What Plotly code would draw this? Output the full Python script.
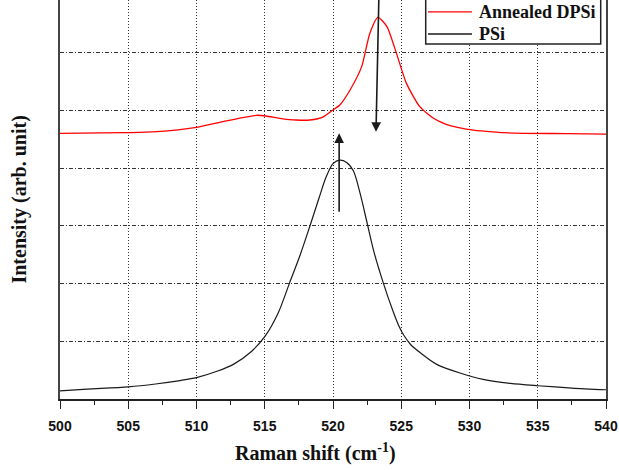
import plotly.graph_objects as go

# Raman shift (cm^-1) and intensity (arb. unit)
psi_x = [500, 502, 505, 507, 508.8, 510, 511.5, 512.7, 514, 515, 516, 516.8, 517.6, 518.3,
         519, 519.5, 520, 520.5, 521, 521.5, 522, 522.5, 523, 523.7, 524.4, 524.8, 525.2,
         525.7, 526.4, 527.6, 529.3, 531, 533, 535, 537.5, 540]
psi_y = [0.14, 0.17, 0.21, 0.26, 0.32, 0.37, 0.48, 0.6, 0.82, 1.08, 1.5, 2.0, 2.5, 2.99,
         3.5, 3.85, 4.08, 4.14, 4.1, 3.95, 3.55, 3.05, 2.55, 2.0, 1.52, 1.28, 1.1,
         0.94, 0.8, 0.6, 0.45, 0.34, 0.27, 0.23, 0.19, 0.16]

dpsi_x = [500, 504.6, 507.1, 510, 512.2, 514.4, 515.1, 516.1, 517.3, 518.3, 519.3, 520,
          520.5, 521.25, 522.1, 522.7, 523.3, 523.96, 524.65, 525.38, 526.36, 527.33,
          528.2, 529.3, 530.3, 531.7, 533.4, 537.1, 540]
dpsi_y = [4.605, 4.615, 4.633, 4.709, 4.82, 4.917, 4.905, 4.865, 4.835, 4.835, 4.89, 5.01,
          5.095, 5.355, 5.76, 6.34, 6.615, 6.45, 5.99, 5.47, 5.066, 4.87,
          4.77, 4.7, 4.66, 4.63, 4.607, 4.6, 4.59]

series_names = ["Annealed DPSi", "PSi"]
series_colors = ["#ff0000", "#1a1a1a"]
x_ticks = [500, 505, 510, 515, 520, 525, 530, 535, 540]

# arrows: (tail x, tail y, head x, head y)
arrow_down = (523.36, 6.95, 523.15, 4.63)
arrow_up = (520.45, 3.22, 520.45, 4.605)

fig = go.Figure()
fig.add_trace(go.Scatter(x=dpsi_x, y=dpsi_y, mode="lines", name=series_names[0],
                         showlegend=False,
                         line=dict(color=series_colors[0], width=1.3, shape="spline",
                                   smoothing=0.6)))
fig.add_trace(go.Scatter(x=psi_x, y=psi_y, mode="lines", name=series_names[1],
                         showlegend=False,
                         line=dict(color=series_colors[1], width=1.2, shape="spline",
                                   smoothing=0.8)))

for tx, ty, hx, hy in [arrow_down, arrow_up]:
    fig.add_annotation(x=hx, y=hy, ax=tx, ay=ty, xref="x", yref="y", axref="x", ayref="y",
                       text="", showarrow=True, arrowhead=2, arrowsize=1.2, arrowwidth=1.6,
                       arrowcolor="#1a1a1a")

serif = "Liberation Serif, Times New Roman, serif"
fig.add_annotation(text="<b>Raman shift (cm<sup>-1</sup>)</b>", xref="paper", yref="paper",
                   x=0.4687, y=-0.133, xanchor="center", yanchor="middle", showarrow=False,
                   font=dict(family=serif, size=20, color="#111"))
fig.add_annotation(text="<b>Intensity (arb. unit)</b>", xref="paper", yref="paper",
                   x=-0.075, y=0.5, xanchor="center", yanchor="middle", showarrow=False,
                   textangle=-90, font=dict(family=serif, size=20, color="#111"))

# legend box drawn in paper coordinates (top edge runs off the picture, as in the reference)
fig.add_shape(type="rect", xref="paper", yref="paper", x0=0.6698, x1=0.9903, y0=0.8897,
              y1=1.03, line=dict(color="#222", width=1.5), fillcolor="white", layer="above")
legend_rows = [0.970, 0.9148]
for name, color, yy in zip(series_names, series_colors, legend_rows):
    fig.add_shape(type="line", xref="paper", yref="paper", x0=0.674, x1=0.7546, y0=yy, y1=yy,
                  line=dict(color=color, width=1.3), layer="above")
    fig.add_annotation(text="<b>" + name + "</b>", xref="paper", yref="paper", x=0.7637, y=yy,
                       xanchor="left", yanchor="middle", showarrow=False,
                       font=dict(family=serif, size=18, color="#111"))

fig.update_layout(
    width=619, height=470,
    margin=dict(l=60, r=13, t=0, b=71, autoexpand=False),
    paper_bgcolor="white", plot_bgcolor="white",
    showlegend=False,
    xaxis=dict(range=[500, 540], tickvals=x_ticks, ticks="outside", ticklen=8, tickwidth=1.2,
               tickcolor="#222", showline=True, linecolor="#222", linewidth=1.5,
               showgrid=True, gridcolor="#333", gridwidth=1, griddash="1px,2px",
               minor=dict(dtick=2.5, tick0=500, ticks="outside", ticklen=4, tickcolor="#222",
                          showgrid=False),
               tickfont=dict(family="Liberation Sans, Arial", size=14, color="#111",
                             weight="bold"),
               ticklabelstandoff=5, zeroline=False),
    yaxis=dict(range=[0, 6.915], dtick=1, tick0=0, showticklabels=False, ticks="",
               showline=True, linecolor="#444", linewidth=1.5, mirror=True,
               showgrid=True, gridcolor="#333", gridwidth=1, griddash="4px,2px,1px,2px",
               zeroline=False),
)

fig.write_html("out.html")
